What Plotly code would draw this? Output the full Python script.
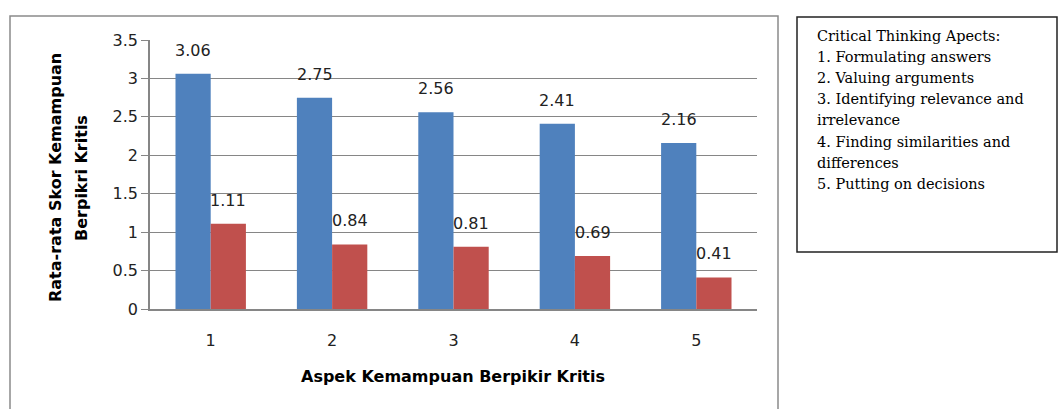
import plotly.graph_objects as go

categories = ["1", "2", "3", "4", "5"]
series_a = [3.06, 2.75, 2.56, 2.41, 2.16]
series_b = [1.11, 0.84, 0.81, 0.69, 0.41]
y_ticks = [0, 0.5, 1, 1.5, 2, 2.5, 3, 3.5]
y_title_lines = ["Rata-rata Skor Kemampuan", "Berpikri Kritis"]
x_title = "Aspek Kemampuan Berpikir Kritis"
box_lines = [
    "Critical Thinking Apects:",
    "1. Formulating answers",
    "2. Valuing arguments",
    "3. Identifying relevance and",
    "irrelevance",
    "4. Finding similarities and",
    "differences",
    "5. Putting on decisions",
]

W, H = 1059, 409
L, R, T, B = 150, 302, 40, 100
PW, PH = W - L - R, H - T - B

def px(x):
    return (x - L) / PW

def py(y):
    return 1 - (y - T) / PH

BLUE = "#4F81BD"
RED = "#C0504D"
SANS = "'DejaVu Sans', Verdana, sans-serif"
SERIF = "'DejaVu Serif', 'Liberation Serif', serif"
bargap = 0.42

fig = go.Figure()
fig.add_trace(go.Bar(x=categories, y=series_a, marker=dict(color=BLUE, line=dict(width=0)), showlegend=False))
fig.add_trace(go.Bar(x=categories, y=series_b, marker=dict(color=RED, line=dict(width=0)), showlegend=False))

annotations = []
off = (1 - bargap) / 4
for i, (a, b) in enumerate(zip(series_a, series_b)):
    annotations.append(dict(x=i - off, y=a, xref="x", yref="y", text=f"{a:.2f}", showarrow=False,
                            xanchor="center", yanchor="bottom", yshift=12,
                            font=dict(family=SANS, size=16, color="#222")))
    annotations.append(dict(x=i + off, y=b, xref="x", yref="y", text=f"{b:.2f}", showarrow=False,
                            xanchor="center", yanchor="bottom", yshift=12,
                            font=dict(family=SANS, size=16, color="#222")))

for k, line in enumerate(y_title_lines):
    annotations.append(dict(x=px(55 + 26 * k), y=py(178), xref="paper", yref="paper", text="<b>" + line + "</b>",
                            textangle=-90, showarrow=False, xanchor="center", yanchor="middle",
                            font=dict(family=SANS, size=16, color="#000")))
annotations.append(dict(x=px(453), y=py(376), xref="paper", yref="paper", text="<b>" + x_title + "</b>",
                        showarrow=False, xanchor="center", yanchor="middle",
                        font=dict(family=SANS, size=16, color="#000")))
for k, line in enumerate(box_lines):
    annotations.append(dict(x=px(815), y=py(36 + 21.1 * k), xref="paper", yref="paper", text=line,
                            showarrow=False, align="left", xanchor="left", yanchor="middle",
                            font=dict(family=SERIF, size=14.5, color="#000")))

shapes = [
    dict(type="rect", xref="paper", yref="paper", x0=px(10), x1=px(778), y0=py(16), y1=py(420),
         line=dict(color="#8a8a8a", width=1.5), layer="below"),
    dict(type="rect", xref="paper", yref="paper", x0=px(797), x1=px(1057), y0=py(17), y1=py(252),
         line=dict(color="#222", width=1.5)),
]

fig.update_layout(
    width=W, height=H,
    margin=dict(l=L, r=R, t=T, b=B),
    paper_bgcolor="white", plot_bgcolor="white",
    barmode="group", bargap=bargap, bargroupgap=0,
    annotations=annotations, shapes=shapes,
    font=dict(family=SANS, size=16, color="#222"),
)
fig.update_xaxes(showline=True, linecolor="#868686", linewidth=1.5, ticks="",
                 ticklabelstandoff=16, tickfont=dict(family=SANS, size=16, color="#222"))
fig.update_yaxes(range=[0, 3.5], tickvals=y_ticks, ticktext=[f"{v:g}" for v in y_ticks],
                 showgrid=True, gridcolor="#868686", gridwidth=1, showline=True, linecolor="#868686",
                 linewidth=1.5, ticks="outside", ticklen=7, tickcolor="#868686",
                 tickfont=dict(family=SANS, size=16, color="#222"), zeroline=False)

fig.write_html("out.html", config={"displayModeBar": False},
               post_script="document.body.style.margin='0';document.body.style.overflow='hidden';")
